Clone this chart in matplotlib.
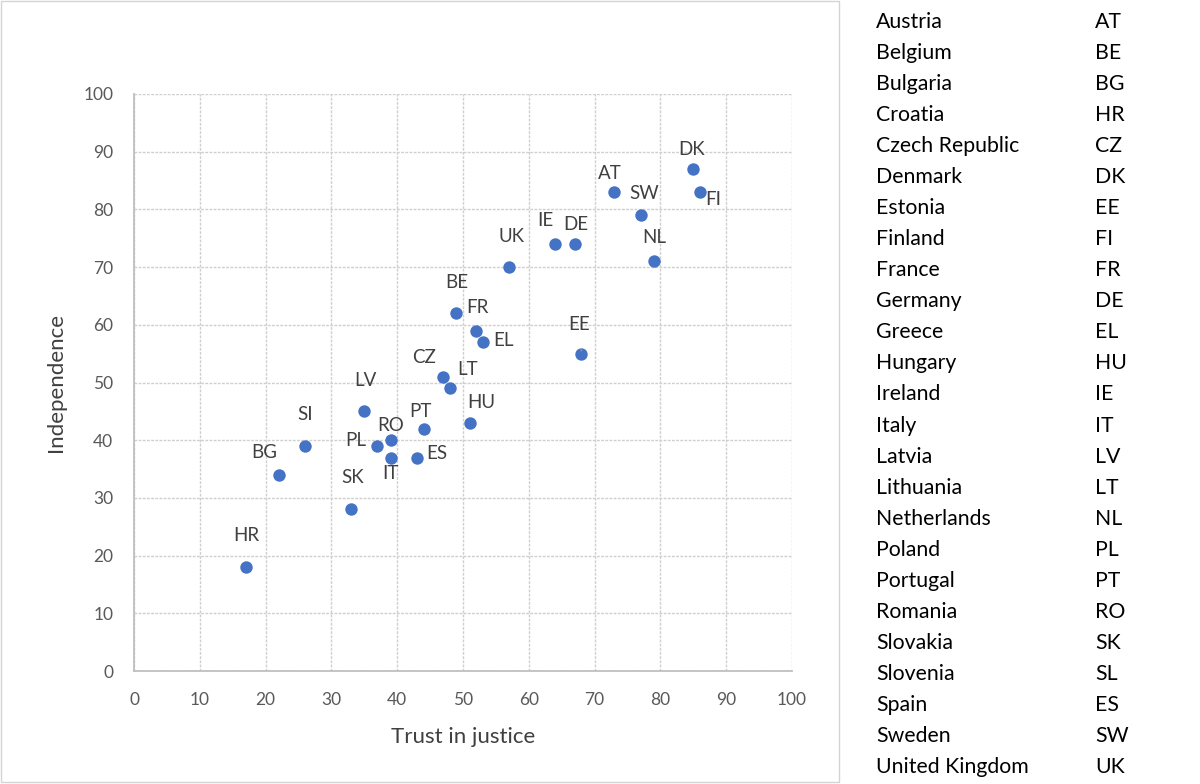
import numpy as np
import matplotlib
matplotlib.use("Agg")
import matplotlib.pyplot as plt
from matplotlib.patches import Rectangle

# ********** Data *************************************************************

codes = ["HR", "BG", "SI", "SK", "LV", "PL", "RO", "IT", "ES", "PT", "CZ", "LT", "HU",
         "BE", "FR", "EL", "UK", "IE", "DE", "EE", "AT", "SW", "NL", "DK", "FI"]
trust = [17, 22, 26, 33, 35, 37, 39, 39, 43, 44, 47, 48, 51,
         49, 52, 53, 57, 64, 67, 68, 73, 77, 79, 85, 86]
independence = [18, 34, 39, 28, 45, 39, 40, 37, 37, 42, 51, 49, 43,
                62, 59, 57, 70, 74, 74, 55, 83, 79, 71, 87, 83]

table_names = ["Austria", "Belgium", "Bulgaria", "Croatia", "Czech Republic", "Denmark",
               "Estonia", "Finland", "France", "Germany", "Greece", "Hungary", "Ireland",
               "Italy", "Latvia", "Lithuania", "Netherlands", "Poland", "Portugal",
               "Romania", "Slovakia", "Slovenia", "Spain", "Sweden", "United Kingdom"]
table_codes = ["AT", "BE", "BG", "HR", "CZ", "DK", "EE", "FI", "FR", "DE", "EL", "HU", "IE",
               "IT", "LV", "LT", "NL", "PL", "PT", "RO", "SK", "SL", "ES", "SW", "UK"]

# label offsets in pixels (dx, dy), Excel-style placement
label_offsets = {
    "HR": (0, 32), "BG": (-15, 22), "SI": (0, 31), "SK": (2, 32), "LV": (1, 31),
    "PL": (-22, 5), "RO": (0, 15), "IT": (0, -16), "ES": (20, 4), "PT": (-3, 17),
    "CZ": (-19, 19), "LT": (18, 19), "HU": (12, 20), "BE": (0, 31), "FR": (1, 23),
    "EL": (21, 2), "UK": (2, 31), "IE": (-10, 24), "DE": (1, 20), "EE": (-2, 29),
    "AT": (-5, 19), "SW": (3, 22), "NL": (0, 24), "DK": (-2, 20), "FI": (13, -7)}

# ********** Plot *************************************************************

plt.rcParams["font.family"] = ["Lato", "DejaVu Sans"]

fig = plt.figure(figsize=(12, 7.84), dpi=100)

# chart area border
fig.patches.append(Rectangle((1 / 1200, 2 / 784), 838 / 1200, 781 / 784,
                             transform=fig.transFigure, fill=False,
                             edgecolor="#d4d4d4", linewidth=1))

ax = fig.add_axes([134 / 1200, 1 - 671 / 784, 658 / 1200, 577 / 784])

ax.scatter(trust, independence, s=80, color="#4472C4", zorder=3, linewidths=0)

for c, x, y in zip(codes, trust, independence):
    dx, dy = label_offsets[c]
    if c == "EE":
        ax.annotate(c, (x, y), xytext=(dx, dy), textcoords="offset pixels",
                    ha="center", va="center", fontsize=13.5, color="#404040",
                    arrowprops=dict(arrowstyle="-", color="#a6a6a6", lw=0.8,
                                    shrinkA=9, shrinkB=2))
    else:
        ax.annotate(c, (x, y), xytext=(dx, dy), textcoords="offset pixels",
                    ha="center", va="center", fontsize=13.5, color="#404040")

ax.set_xlim(0, 100)
ax.set_ylim(0, 100)
ax.set_xticks(np.arange(0, 101, 10))
ax.set_yticks(np.arange(0, 101, 10))
ax.grid(True, color="#cfcfcf", linestyle=(0, (2, 1)), linewidth=1)
ax.set_axisbelow(True)

for side in ["top", "right"]:
    ax.spines[side].set_visible(False)
for side in ["left", "bottom"]:
    ax.spines[side].set_color("#bfbfbf")
    ax.spines[side].set_linewidth(1.3)

ax.tick_params(axis="both", length=0, labelsize=12.5, labelcolor="#595959")
ax.tick_params(axis="x", pad=15)
ax.tick_params(axis="y", pad=15)

ax.set_xlabel("Trust in justice", fontsize=16, color="#404040", labelpad=14)
ax.set_ylabel("Independence", fontsize=16, color="#404040", labelpad=12)

# country table on the right
for i, (name, code) in enumerate(zip(table_names, table_codes)):
    yy = 1 - (22 + i * 31.04) / 784
    fig.text(876 / 1200, yy, name, fontsize=15.3, color="#000000", va="center", ha="left")
    fig.text(1095 / 1200, yy, code, fontsize=15.3, color="#000000", va="center", ha="left")

fig.savefig("out.png", dpi=100)
